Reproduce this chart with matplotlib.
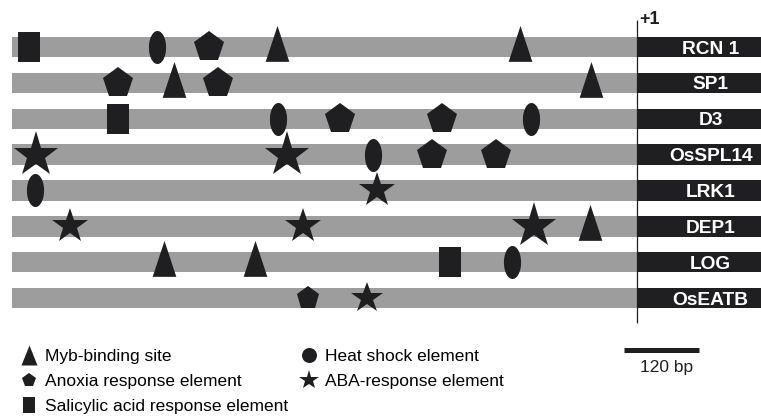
import numpy as np
import matplotlib
matplotlib.use('Agg')
from matplotlib import pyplot as plt
from matplotlib.lines import Line2D

plt.rcParams['font.family'] = 'Liberation Sans'

# promoter regions, 1000 bp upstream of the transcription start (+1)
genes = ['RCN 1', 'SP1', 'D3', 'OsSPL14', 'LRK1', 'DEP1', 'LOG', 'OsEATB']
promoter_len = 1000
scale_bp = 120

# (gene row, position in bp relative to +1)
myb_sites = [(0, -576), (0, -187), (1, -741), (1, -74), (5, -75), (6, -757), (6, -611)]
anoxia_sites = [(0, -685), (1, -830), (1, -670), (2, -475), (2, -312), (3, -328), (3, -226), (7, -526)]
salicylic_sites = [(0, -973), (2, -830), (6, -299)]
heat_shock_sites = [(0, -768), (2, -574), (2, -170), (3, -422), (4, -963), (6, -200)]
aba_sites = [(3, -962), (3, -560), (4, -416), (5, -907), (5, -534), (5, -165), (7, -432)]

legend_labels = ['Myb-binding site', 'Anoxia response element', 'Salicylic acid response element',
                 'Heat shock element', 'ABA-response element']

dark = '#1f1f21'
grey = '#9d9d9d'

# marker shapes
tri = [(-0.33, -0.4), (0.33, -0.4), (0, 0.6)]
tri_key = [(-0.4, -0.5), (0.4, -0.5), (0, 0.5)]
t = np.linspace(0, 2 * np.pi, 60)
oval = list(zip(0.26 * np.cos(t), 0.5 * np.sin(t)))
rect = [(-0.355, -0.5), (0.355, -0.5), (0.355, 0.5), (-0.355, 0.5)]

anoxia_size = [22.7] * 7 + [17.4]
aba_size = [34, 34, 26.5, 26.5, 26.5, 34, 23.5]

fig = plt.figure(figsize=(7.61, 4.18), dpi=100)
ax = fig.add_axes([0, 0, 1, 1])
ax.set_xlim(-1019.2, 198.4)
ax.set_ylim(10.346, -1.311)
ax.axis('off')

rows = np.arange(len(genes))
ax.barh(rows, promoter_len, left=-promoter_len, height=0.57, color=grey, zorder=1)
ax.barh(rows, 250, left=0, height=0.57, color=dark, zorder=1)
for i, g in enumerate(genes):
    ax.text(118, i, g, color='white', fontsize=13.8, fontweight='bold',
            ha='center', va='center_baseline', zorder=3)

ax.vlines(0, -0.75, 7.7, color=dark, lw=0.9, zorder=2)
ax.text(3, -0.77, '+1', fontsize=13, fontweight='bold', ha='left', va='center', color=dark)


def draw(sites, marker, size):
    sizes = size if isinstance(size, list) else [size] * len(sites)
    for (r, pos), s in zip(sites, sizes):
        ax.plot(pos, r, marker=marker, ms=s, color=dark, mew=0, zorder=4)


draw(myb_sites, tri, 31)
draw(anoxia_sites, 'p', anoxia_size)
draw(salicylic_sites, rect, 22.3)
draw(heat_shock_sites, oval, 23.8)
draw(aba_sites, '*', aba_size)

# scale bar
ax.plot([-21, -21 + scale_bp], [8.46, 8.46], color=dark, lw=3.6, solid_capstyle='butt')
ax.text(-21 + scale_bp / 2 + 8, 8.95, f'{scale_bp} bp', fontsize=12.5, ha='center', va='center', color=dark)

handles = [
    Line2D([], [], ls='none', marker=tri_key, ms=14.4, color=dark, mew=0),
    Line2D([], [], ls='none', marker='p', ms=10.8, color=dark, mew=0),
    Line2D([], [], ls='none', marker=rect, ms=11.5, color=dark, mew=0),
    Line2D([], [], ls='none', marker='o', ms=10.8, color=dark, mew=0),
    Line2D([], [], ls='none', marker='*', ms=14.4, color=dark, mew=0),
]
ax.legend(handles, legend_labels, ncol=2, loc='upper left', frameon=False,
          bbox_to_anchor=(20.3 / 761, 1 - 349 / 418), borderaxespad=0, borderpad=0,
          fontsize=12.5, handlelength=1.0, handletextpad=0.42, columnspacing=0.71,
          labelspacing=0.57)

plt.savefig('out.png', dpi=100)
